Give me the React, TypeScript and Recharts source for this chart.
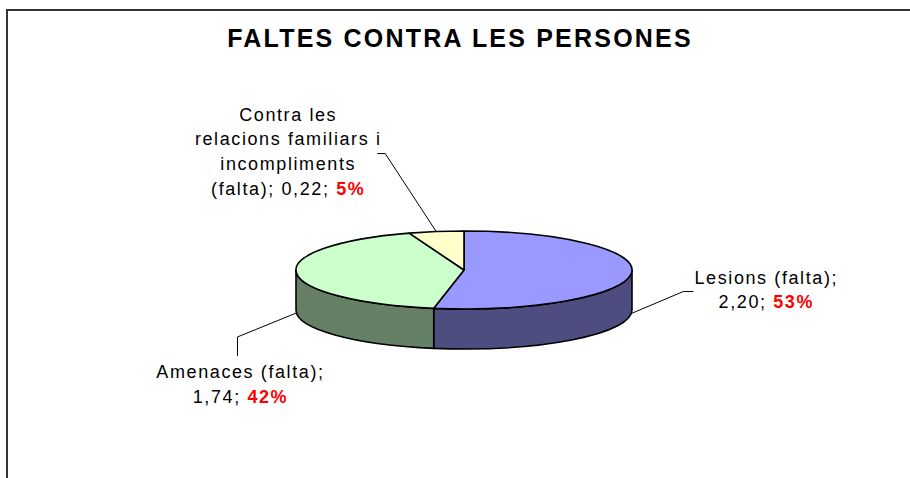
import React from 'react';
import { PieChart, Pie, Cell } from 'recharts';

// dades del gràfic
const categories = [
    'Lesions (falta)',
    'Amenaces (falta)',
    'Contra les relacions familiars i incompliments (falta)'
];
const values = [2.2, 1.74, 0.22];
// com es parteix el nom a l'etiqueta
const nameLines = [
    ['Lesions (falta);'],
    ['Amenaces (falta);'],
    ['Contra les', 'relacions familiars i', 'incompliments', '(falta);']
];

const topColors = ['#9999FF', '#CCFFCC', '#FFFFCC'];
const sideColors = ['#4D4D80', '#668066', '#808066'];

// posició de les etiquetes respecte del punt d'ancoratge
const labelLayout = [
    { elbow: [52, -22], end: [62, -22], text: [135, -30], valueOwnLine: true },
    { elbow: [-59, 24], end: [-59, 43], text: [-56, 65], valueOwnLine: true },
    { elbow: [-51, -78], end: [-59, -78], text: [-148, -111], valueOwnLine: false }
];

const data = categories.map((name, i) => ({ name, value: values[i], idx: i }));

const TILT = 0.232;
const DEPTH = 40;
const LINE_H = 24.7;
const RAD = Math.PI / 180;
const FONT = '"Liberation Sans", Arial, sans-serif';

const pt = (cx: number, cy: number, rx: number, ry: number, a: number) =>
    [cx + rx * Math.cos(a * RAD), cy - ry * Math.sin(a * RAD)];

const Slice3D = (props: any) => {
    const { cx, cy, outerRadius, startAngle, endAngle, fill } = props;
    const idx = props.payload?.idx ?? 0;
    const rx = outerRadius;
    const ry = outerRadius * TILT;
    const [x1, y1] = pt(cx, cy, rx, ry, startAngle);
    const [x2, y2] = pt(cx, cy, rx, ry, endAngle);
    const large = Math.abs(startAngle - endAngle) > 180 ? 1 : 0;
    const sweep = startAngle > endAngle ? 1 : 0;
    const top = `M${cx},${cy} L${x1},${y1} A${rx},${ry} 0 ${large} ${sweep} ${x2},${y2} Z`;

    // part frontal (cara lateral visible)
    const lo = Math.min(startAngle, endAngle);
    const hi = Math.max(startAngle, endAngle);
    const sides: string[] = [];
    [-720, -360, 0, 360].forEach(k => {
        const a = Math.max(lo, k - 180);
        const b = Math.min(hi, k);
        if (b - a > 0.01) {
            const [px, py] = pt(cx, cy, rx, ry, b);
            const [qx, qy] = pt(cx, cy, rx, ry, a);
            sides.push(
                `M${px},${py} A${rx},${ry} 0 0 1 ${qx},${qy} L${qx},${qy + DEPTH} ` +
                `A${rx},${ry} 0 0 0 ${px},${py + DEPTH} Z`
            );
        }
    });

    return (
        <g>
            {sides.map((d, i) => (
                <path key={i} d={d} fill={sideColors[idx]} stroke="#000" strokeWidth={1.6} strokeLinejoin="round" />
            ))}
            <path d={top} fill={fill} stroke="#000" strokeWidth={1.6} strokeLinejoin="round" />
        </g>
    );
};

const renderLabel = (props: any) => {
    const { cx, cy, midAngle, outerRadius, percent, payload } = props;
    const idx = payload?.idx ?? props.index ?? 0;
    const rx = outerRadius;
    const ry = outerRadius * TILT;
    const [ax, ay0] = pt(cx, cy, rx, ry, midAngle);
    const ay = Math.sin(midAngle * RAD) < 0 ? ay0 + DEPTH : ay0;
    const lay = labelLayout[idx];
    const tx = ax + lay.text[0];
    const ty = ay + lay.text[1];
    const val = `${payload.value.toFixed(2).replace('.', ',')}; `;
    const pct = `${Math.round(percent * 100)}%`;
    const lines = nameLines[idx];

    const rows: React.ReactNode[] = [];
    lines.forEach((l, i) => {
        const last = i === lines.length - 1;
        if (last && !lay.valueOwnLine) {
            rows.push(
                <tspan key={i} x={tx} y={ty + i * LINE_H}>
                    {`${l} ${val}`}
                    <tspan fill="#FF0000" fontWeight="bold">{pct}</tspan>
                </tspan>
            );
        } else {
            rows.push(<tspan key={i} x={tx} y={ty + i * LINE_H}>{l}</tspan>);
        }
    });
    if (lay.valueOwnLine) {
        rows.push(
            <tspan key="v" x={tx} y={ty + lines.length * LINE_H}>
                {val}
                <tspan fill="#FF0000" fontWeight="bold">{pct}</tspan>
            </tspan>
        );
    }

    return (
        <g>
            <polyline
                points={`${ax},${ay} ${ax + lay.elbow[0]},${ay + lay.elbow[1]} ${ax + lay.end[0]},${ay + lay.end[1]}`}
                fill="none"
                stroke="#000"
                strokeWidth={1}
            />
            <text textAnchor="middle" fontFamily={FONT} fontSize={18} letterSpacing={1.6} fill="#000">
                {rows}
            </text>
        </g>
    );
};

export default function App() {
    return (
        <div style={{ position: 'absolute', left: 0, top: 0, width: 910, height: 478, background: '#fff', overflow: 'hidden' }}>
            <div style={{ position: 'absolute', left: 6, top: 9, width: 910, height: 478, borderTop: '2px solid #333', borderLeft: '2px solid #333' }} />
            <div
                style={{
                    position: 'absolute',
                    left: 0,
                    width: 920,
                    top: 26,
                    textAlign: 'center',
                    fontFamily: FONT,
                    fontWeight: 'bold',
                    fontSize: 25,
                    lineHeight: '25px',
                    letterSpacing: 2.2
                }}
            >
                FALTES CONTRA LES PERSONES
            </div>
            <div style={{ position: 'absolute', left: 0, top: 0 }}>
                <PieChart width={910} height={478} margin={{ top: 0, right: 0, bottom: 0, left: 0 }}>
                    <Pie
                        data={data}
                        dataKey="value"
                        nameKey="name"
                        cx={464}
                        cy={270}
                        outerRadius={168}
                        startAngle={90}
                        endAngle={-270}
                        stroke="#000"
                        shape={Slice3D}
                        activeShape={Slice3D}
                        inactiveShape={Slice3D}
                        label={renderLabel}
                        labelLine={false}
                        isAnimationActive={false}
                    >
                        {data.map((d, i) => (
                            <Cell key={d.name} fill={topColors[i]} />
                        ))}
                    </Pie>
                </PieChart>
            </div>
        </div>
    );
}
